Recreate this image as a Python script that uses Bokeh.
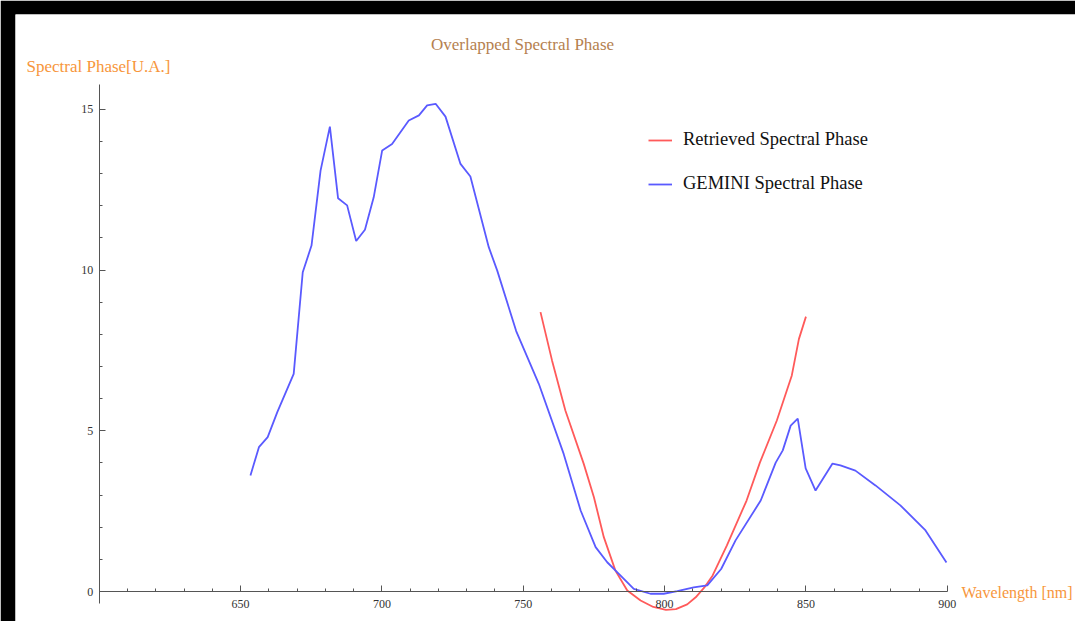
from bokeh.plotting import figure
from bokeh.models import Label, FixedTicker, Legend, LegendItem
from bokeh.embed import file_html
from bokeh.resources import INLINE

# GEMINI spectral phase (blue)
gemini_wl = [653.5, 656.5, 659.6, 663.0, 668.8, 672.0, 675.1, 678.3, 681.6, 684.5,
             687.7, 690.9, 694.0, 697.1, 700.1, 703.6, 709.5, 713.1, 716.0, 719.0,
             722.5, 727.8, 731.3, 737.8, 740.8, 747.5, 755.5, 764.3, 770.3, 775.6,
             779.7, 783.2, 789.1, 795.0, 799.7, 804.5, 810.3, 815.1, 820.0, 825.1,
             834.0, 839.3, 841.8, 844.6, 847.1, 849.9, 853.4, 859.4, 862.2, 867.5,
             874.6, 883.4, 892.3, 899.7]
gemini_ph = [3.61, 4.49, 4.80, 5.58, 6.77, 9.93, 10.76, 13.09, 14.46, 12.23,
             12.01, 10.90, 11.25, 12.26, 13.72, 13.92, 14.65, 14.81, 15.12, 15.17,
             14.77, 13.30, 12.91, 10.71, 9.98, 8.10, 6.46, 4.28, 2.52, 1.38,
             0.91, 0.60, 0.08, -0.07, -0.07, 0.01, 0.13, 0.19, 0.70, 1.59,
             2.83, 4.01, 4.39, 5.16, 5.38, 3.83, 3.14, 3.98, 3.92, 3.76,
             3.30, 2.68, 1.90, 0.90]

# Retrieved spectral phase (red)
retr_wl = [756.1, 760.2, 764.9, 771.4, 775.0, 778.5, 782.6, 786.8, 791.5, 796.0,
           800.5, 804.0, 808.0, 811.0, 814.0, 817.0, 822.0, 829.0, 833.7, 839.7,
           845.0, 847.5, 850.0]
retr_ph = [8.69, 7.18, 5.63, 3.97, 2.93, 1.69, 0.65, 0.03, -0.28, -0.48,
           -0.57, -0.55, -0.40, -0.18, 0.12, 0.50, 1.43, 2.83, 4.01, 5.32,
           6.72, 7.85, 8.55]

x_major = [650, 700, 750, 800, 850, 900]
x_minor = [v for v in range(610, 900, 10) if v % 50 != 0]
y_major = [0, 5, 10, 15]
y_minor = [v for v in range(0, 16) if v % 5 != 0]

title_text = "Overlapped Spectral Phase"
ylabel_text = "Spectral Phase[U.A.]"
xlabel_text = "Wavelength [nm]"
series_names = ["Retrieved Spectral Phase", "GEMINI Spectral Phase"]

# pixel mapping derived from reference: 2.827 px per nm, 32.15 px per unit
def px_x(px):
    return 600 + (px - 98.7) / 2.827

def px_y(py):
    return (591 - py) / 32.15

W, H = 1075, 621
LEFT, TOP = 15, 14
p = figure(width=W, height=H, x_range=(px_x(LEFT), px_x(W)), y_range=(px_y(H), px_y(TOP)),
           output_backend="svg", toolbar_location=None,
           min_border_left=LEFT, min_border_top=TOP, min_border_right=0, min_border_bottom=0)
p.border_fill_color = "black"
p.background_fill_color = "white"
p.outline_line_color = None
p.grid.visible = False

SERIF = "Liberation Serif"
AX = "#555555"

xa = p.xaxis[0]
xa.fixed_location = 0
xa.bounds = (600, 900)
xa.ticker = FixedTicker(ticks=x_major, minor_ticks=x_minor)
xa.axis_line_color = AX
xa.major_tick_line_color = AX
xa.minor_tick_line_color = AX
xa.major_tick_in = 6
xa.major_tick_out = 0
xa.minor_tick_in = 3
xa.minor_tick_out = 0
xa.major_label_standoff = 8
xa.major_label_text_font = SERIF
xa.major_label_text_font_size = "12px"
xa.major_label_text_color = "#333333"

ya = p.yaxis[0]
ya.fixed_location = 600
ya.bounds = (-0.36, 15.78)
ya.ticker = FixedTicker(ticks=y_major, minor_ticks=y_minor)
ya.axis_line_color = AX
ya.major_tick_line_color = AX
ya.minor_tick_line_color = AX
ya.major_tick_in = 6
ya.major_tick_out = 0
ya.minor_tick_in = 3
ya.minor_tick_out = 0
ya.major_label_standoff = 6
ya.major_label_text_font = SERIF
ya.major_label_text_font_size = "12px"
ya.major_label_text_color = "#333333"

r_red = p.line(retr_wl, retr_ph, line_color="#ff5a5a", line_width=1.8)
r_blue = p.line(gemini_wl, gemini_ph, line_color="#5a5aff", line_width=1.8)

legend = Legend(items=[LegendItem(label=series_names[0], renderers=[r_red]),
                       LegendItem(label=series_names[1], renderers=[r_blue])],
                location=(633, H - 194), orientation="vertical")
legend.border_line_color = None
legend.background_fill_alpha = 0
legend.padding = 0
legend.margin = 0
legend.spacing = 23
legend.glyph_width = 24
legend.glyph_height = 20
legend.label_height = 20
legend.label_standoff = 11
legend.label_text_font = SERIF
legend.label_text_font_size = "18.5px"
legend.label_text_color = "#111111"
p.add_layout(legend)

p.add_layout(Label(x=px_x(522), y=px_y(44), text=title_text,
                   text_align="center", text_baseline="middle", text_font=SERIF,
                   text_font_size="17px", text_color="#b5814f"))
p.add_layout(Label(x=px_x(26), y=px_y(66), text=ylabel_text,
                   text_align="left", text_baseline="middle", text_font=SERIF,
                   text_font_size="17px", text_color="#f7963c"))
p.add_layout(Label(x=px_x(961), y=px_y(592), text=xlabel_text,
                   text_align="left", text_baseline="middle", text_font=SERIF,
                   text_font_size="16px", text_color="#f7963c"))

open("out.html", "w").write(file_html(p, INLINE))
